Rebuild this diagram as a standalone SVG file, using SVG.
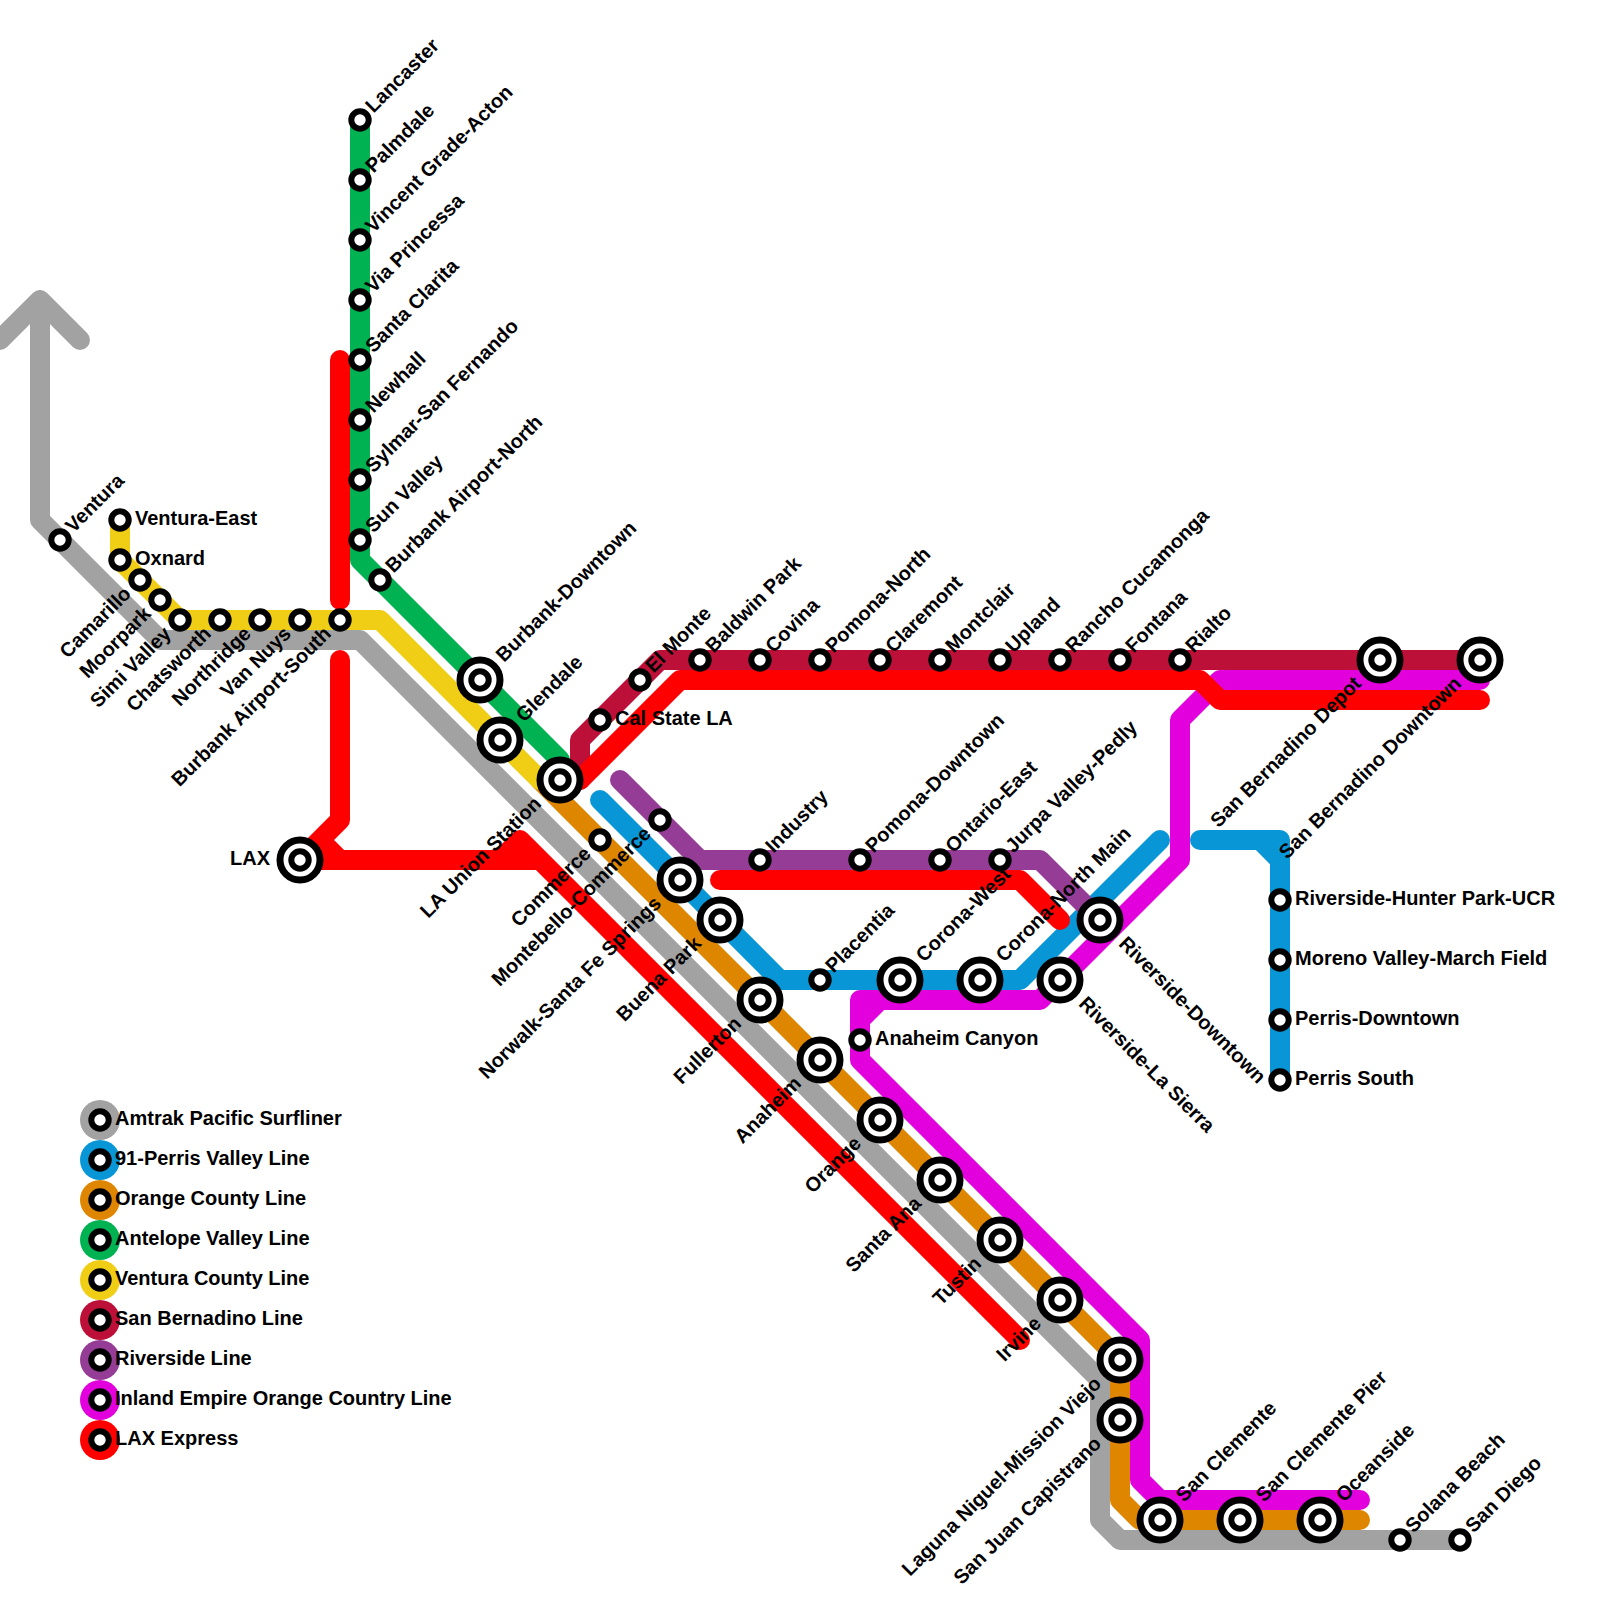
<svg xmlns="http://www.w3.org/2000/svg" width="1600" height="1600" viewBox="0 0 1600 1600">
<style>
text{font-family:"Liberation Sans",Arial,sans-serif;font-weight:700;font-size:20px;fill:#000}
.l{fill:none;stroke-width:20;stroke-linecap:round;stroke-linejoin:round}
.gy{stroke:#a2a2a2}.bl{stroke:#0896d7}.or{stroke:#df8600}.gn{stroke:#00b251}.ye{stroke:#f0ce15}.cr{stroke:#bd1038}.pu{stroke:#953d96}.ma{stroke:#e200dc}.re{stroke:#ff0000}
.k{fill:#fff;stroke:#000}
.e{text-anchor:end}
</style>
<defs>
<g id="st"><circle r="8.7" stroke-width="6" class="k"/></g>
<g id="ix"><circle r="20" stroke-width="7" class="k"/><circle r="8.7" stroke-width="6" class="k"/></g>
</defs>
<g id="connectors">
<path class="l gy" d="M0,340L40,300L80,340M40,300V520L160,640H360L1100,1380V1520L1120,1540H1460"/>
<path class="l bl" d="M600,800L780,980H1020L1160,840M1200,840H1280V1080M1260,840L1280,860"/>
<path class="l or" d="M540,780L1120,1360V1500L1140,1520H1360"/>
<path class="l gn" d="M360,120V560L560,760V780"/>
<path class="l ye" d="M120,520V560L180,620H380L540,780H560"/>
<path class="l cr" d="M580,780V740L660,660H1480"/>
<path class="l pu" d="M620,780L700,860H1040L1100,920"/>
<path class="l ma" d="M1480,680H1220L1180,720V860L1040,1000H860V1060L1140,1340V1480L1160,1500H1360M880,1000L860,1020"/>
<path class="l re" d="M340,360V600M340,660V820L300,860H540M320,840L340,860M500,860L520,840L1020,1340M580,780L680,680H1200L1220,700H1480M720,880H1020L1060,920"/>
</g>
<g id="stations">
<g id="lancaster" transform="translate(360,120)"><use href="#st"/><text x="14" y="5" transform="rotate(-45)">Lancaster</text></g>
<g id="palmdale" transform="translate(360,180)"><use href="#st"/><text x="14" y="5" transform="rotate(-45)">Palmdale</text></g>
<g id="vincent" transform="translate(360,240)"><use href="#st"/><text x="14" y="5" transform="rotate(-45)">Vincent Grade-Acton</text></g>
<g id="via-princessa" transform="translate(360,300)"><use href="#st"/><text x="14" y="5" transform="rotate(-45)">Via Princessa</text></g>
<g id="santa-clarita" transform="translate(360,360)"><use href="#st"/><text x="14" y="5" transform="rotate(-45)">Santa Clarita</text></g>
<g id="newhall" transform="translate(360,420)"><use href="#st"/><text x="14" y="5" transform="rotate(-45)">Newhall</text></g>
<g id="sylmar" transform="translate(360,480)"><use href="#st"/><text x="14" y="5" transform="rotate(-45)">Sylmar-San Fernando</text></g>
<g id="sun-valley" transform="translate(360,540)"><use href="#st"/><text x="14" y="5" transform="rotate(-45)">Sun Valley</text></g>
<g id="burbank-north" transform="translate(380,580)"><use href="#st"/><text x="14" y="5" transform="rotate(-45)">Burbank Airport-North</text></g>
<g id="burbank-downtown" transform="translate(480,680)"><use href="#ix"/><text x="29" y="5" transform="rotate(-45)">Burbank-Downtown</text></g>
<g id="glendale" transform="translate(500,740)"><use href="#ix"/><text x="29" y="5" transform="rotate(-45)">Glendale</text></g>
<g id="ventura" transform="translate(60,540)"><use href="#st"/><text x="14" y="5" transform="rotate(-45)">Ventura</text></g>
<g id="ventura-east" transform="translate(120,520)"><use href="#st"/><text x="15" y="5">Ventura-East</text></g>
<g id="oxnard" transform="translate(120,560)"><use href="#st"/><text x="15" y="5">Oxnard</text></g>
<g id="camarillo" transform="translate(140,580)"><use href="#st"/><text class="e" x="-16" y="5" transform="rotate(-45)">Camarillo</text></g>
<g id="moorpark" transform="translate(160,600)"><use href="#st"/><text class="e" x="-16" y="5" transform="rotate(-45)">Moorpark</text></g>
<g id="simi-valley" transform="translate(180,620)"><use href="#st"/><text class="e" x="-16" y="5" transform="rotate(-45)">Simi Valley</text></g>
<g id="chatsworth" transform="translate(220,620)"><use href="#st"/><text class="e" x="-16" y="5" transform="rotate(-45)">Chatsworth</text></g>
<g id="northridge" transform="translate(260,620)"><use href="#st"/><text class="e" x="-16" y="5" transform="rotate(-45)">Northridge</text></g>
<g id="van-nuys" transform="translate(300,620)"><use href="#st"/><text class="e" x="-16" y="5" transform="rotate(-45)">Van Nuys</text></g>
<g id="burbank-south" transform="translate(340,620)"><use href="#st"/><text class="e" x="-16" y="5" transform="rotate(-45)">Burbank Airport-South</text></g>
<g id="lax" transform="translate(300,860)"><use href="#ix"/><text class="e" x="-30" y="5">LAX</text></g>
<g id="la-union" transform="translate(560,780)"><use href="#ix"/><text class="e" x="-30" y="5" transform="rotate(-45)">LA Union Station</text></g>
<g id="cal-state" transform="translate(600,720)"><use href="#st"/><text x="15" y="5">Cal State LA</text></g>
<g id="el-monte" transform="translate(640,680)"><use href="#st"/><text x="14" y="5" transform="rotate(-45)">El Monte</text></g>
<g id="baldwin-park" transform="translate(700,660)"><use href="#st"/><text x="14" y="5" transform="rotate(-45)">Baldwin Park</text></g>
<g id="covina" transform="translate(760,660)"><use href="#st"/><text x="14" y="5" transform="rotate(-45)">Covina</text></g>
<g id="pomona-north" transform="translate(820,660)"><use href="#st"/><text x="14" y="5" transform="rotate(-45)">Pomona-North</text></g>
<g id="claremont" transform="translate(880,660)"><use href="#st"/><text x="14" y="5" transform="rotate(-45)">Claremont</text></g>
<g id="montclair" transform="translate(940,660)"><use href="#st"/><text x="14" y="5" transform="rotate(-45)">Montclair</text></g>
<g id="upland" transform="translate(1000,660)"><use href="#st"/><text x="14" y="5" transform="rotate(-45)">Upland</text></g>
<g id="rancho" transform="translate(1060,660)"><use href="#st"/><text x="14" y="5" transform="rotate(-45)">Rancho Cucamonga</text></g>
<g id="fontana" transform="translate(1120,660)"><use href="#st"/><text x="14" y="5" transform="rotate(-45)">Fontana</text></g>
<g id="rialto" transform="translate(1180,660)"><use href="#st"/><text x="14" y="5" transform="rotate(-45)">Rialto</text></g>
<g id="sb-depot" transform="translate(1380,660)"><use href="#ix"/><text class="e" x="-30" y="5" transform="rotate(-45)">San Bernadino Depot</text></g>
<g id="sb-downtown" transform="translate(1480,660)"><use href="#ix"/><text class="e" x="-30" y="5" transform="rotate(-45)">San Bernadino Downtown</text></g>
<g id="commerce" transform="translate(600,840)"><use href="#st"/><text class="e" x="-16" y="5" transform="rotate(-45)">Commerce</text></g>
<g id="montebello" transform="translate(660,820)"><use href="#st"/><text class="e" x="-16" y="5" transform="rotate(-45)">Montebello-Commerce</text></g>
<g id="norwalk" transform="translate(680,880)"><use href="#ix"/><text class="e" x="-30" y="5" transform="rotate(-45)">Norwalk-Santa Fe Springs</text></g>
<g id="buena-park" transform="translate(720,920)"><use href="#ix"/><text class="e" x="-30" y="5" transform="rotate(-45)">Buena Park</text></g>
<g id="fullerton" transform="translate(760,1000)"><use href="#ix"/><text class="e" x="-30" y="5" transform="rotate(-45)">Fullerton</text></g>
<g id="anaheim" transform="translate(820,1060)"><use href="#ix"/><text class="e" x="-30" y="5" transform="rotate(-45)">Anaheim</text></g>
<g id="orange" transform="translate(880,1120)"><use href="#ix"/><text class="e" x="-30" y="5" transform="rotate(-45)">Orange</text></g>
<g id="santa-ana" transform="translate(940,1180)"><use href="#ix"/><text class="e" x="-30" y="5" transform="rotate(-45)">Santa Ana</text></g>
<g id="tustin" transform="translate(1000,1240)"><use href="#ix"/><text class="e" x="-30" y="5" transform="rotate(-45)">Tustin</text></g>
<g id="irvine" transform="translate(1060,1300)"><use href="#ix"/><text class="e" x="-30" y="5" transform="rotate(-45)">Irvine</text></g>
<g id="laguna" transform="translate(1120,1360)"><use href="#ix"/><text class="e" x="-30" y="5" transform="rotate(-45)">Laguna Niguel-Mission Viejo</text></g>
<g id="capistrano" transform="translate(1120,1420)"><use href="#ix"/><text class="e" x="-30" y="5" transform="rotate(-45)">San Juan Capistrano</text></g>
<g id="industry" transform="translate(760,860)"><use href="#st"/><text x="14" y="5" transform="rotate(-45)">Industry</text></g>
<g id="pomona-downtown" transform="translate(860,860)"><use href="#st"/><text x="14" y="5" transform="rotate(-45)">Pomona-Downtown</text></g>
<g id="ontario-east" transform="translate(940,860)"><use href="#st"/><text x="14" y="5" transform="rotate(-45)">Ontario-East</text></g>
<g id="jurpa" transform="translate(1000,860)"><use href="#st"/><text x="14" y="5" transform="rotate(-45)">Jurpa Valley-Pedly</text></g>
<g id="placentia" transform="translate(820,980)"><use href="#st"/><text x="14" y="5" transform="rotate(-45)">Placentia</text></g>
<g id="corona-west" transform="translate(900,980)"><use href="#ix"/><text x="29" y="5" transform="rotate(-45)">Corona-West</text></g>
<g id="corona-north" transform="translate(980,980)"><use href="#ix"/><text x="29" y="5" transform="rotate(-45)">Corona-North Main</text></g>
<g id="anaheim-canyon" transform="translate(860,1040)"><use href="#st"/><text x="15" y="5">Anaheim Canyon</text></g>
<g id="riverside-ls" transform="translate(1060,980)"><use href="#ix"/><text x="30" y="5" transform="rotate(45)">Riverside-La Sierra</text></g>
<g id="riverside-dt" transform="translate(1100,920)"><use href="#ix"/><text x="30" y="5" transform="rotate(45)">Riverside-Downtown</text></g>
<g id="hunter-park" transform="translate(1280,900)"><use href="#st"/><text x="15" y="5">Riverside-Hunter Park-UCR</text></g>
<g id="moreno" transform="translate(1280,960)"><use href="#st"/><text x="15" y="5">Moreno Valley-March Field</text></g>
<g id="perris-dt" transform="translate(1280,1020)"><use href="#st"/><text x="15" y="5">Perris-Downtown</text></g>
<g id="perris-s" transform="translate(1280,1080)"><use href="#st"/><text x="15" y="5">Perris South</text></g>
<g id="san-clemente" transform="translate(1160,1520)"><use href="#ix"/><text x="29" y="5" transform="rotate(-45)">San Clemente</text></g>
<g id="san-clemente-pier" transform="translate(1240,1520)"><use href="#ix"/><text x="29" y="5" transform="rotate(-45)">San Clemente Pier</text></g>
<g id="oceanside" transform="translate(1320,1520)"><use href="#ix"/><text x="29" y="5" transform="rotate(-45)">Oceanside</text></g>
<g id="solana" transform="translate(1400,1540)"><use href="#st"/><text x="14" y="5" transform="rotate(-45)">Solana Beach</text></g>
<g id="san-diego" transform="translate(1460,1540)"><use href="#st"/><text x="14" y="5" transform="rotate(-45)">San Diego</text></g>
</g>
<g id="legend">
<g id="lg-amtrak" transform="translate(100,1120)"><circle r="20" fill="#a2a2a2"/><use href="#st"/><text x="15" y="5">Amtrak Pacific Surfliner</text></g>
<g id="lg-perris" transform="translate(100,1160)"><circle r="20" fill="#0896d7"/><use href="#st"/><text x="15" y="5">91-Perris Valley Line</text></g>
<g id="lg-orange" transform="translate(100,1200)"><circle r="20" fill="#df8600"/><use href="#st"/><text x="15" y="5">Orange County Line</text></g>
<g id="lg-antelope" transform="translate(100,1240)"><circle r="20" fill="#00b251"/><use href="#st"/><text x="15" y="5">Antelope Valley Line</text></g>
<g id="lg-ventura" transform="translate(100,1280)"><circle r="20" fill="#f0ce15"/><use href="#st"/><text x="15" y="5">Ventura County Line</text></g>
<g id="lg-sb" transform="translate(100,1320)"><circle r="20" fill="#bd1038"/><use href="#st"/><text x="15" y="5">San Bernadino Line</text></g>
<g id="lg-riverside" transform="translate(100,1360)"><circle r="20" fill="#953d96"/><use href="#st"/><text x="15" y="5">Riverside Line</text></g>
<g id="lg-inland" transform="translate(100,1400)"><circle r="20" fill="#e200dc"/><use href="#st"/><text x="15" y="5">Inland Empire Orange Country Line</text></g>
<g id="lg-lax" transform="translate(100,1440)"><circle r="20" fill="#ff0000"/><use href="#st"/><text x="15" y="5">LAX Express</text></g>
</g>
</svg>
